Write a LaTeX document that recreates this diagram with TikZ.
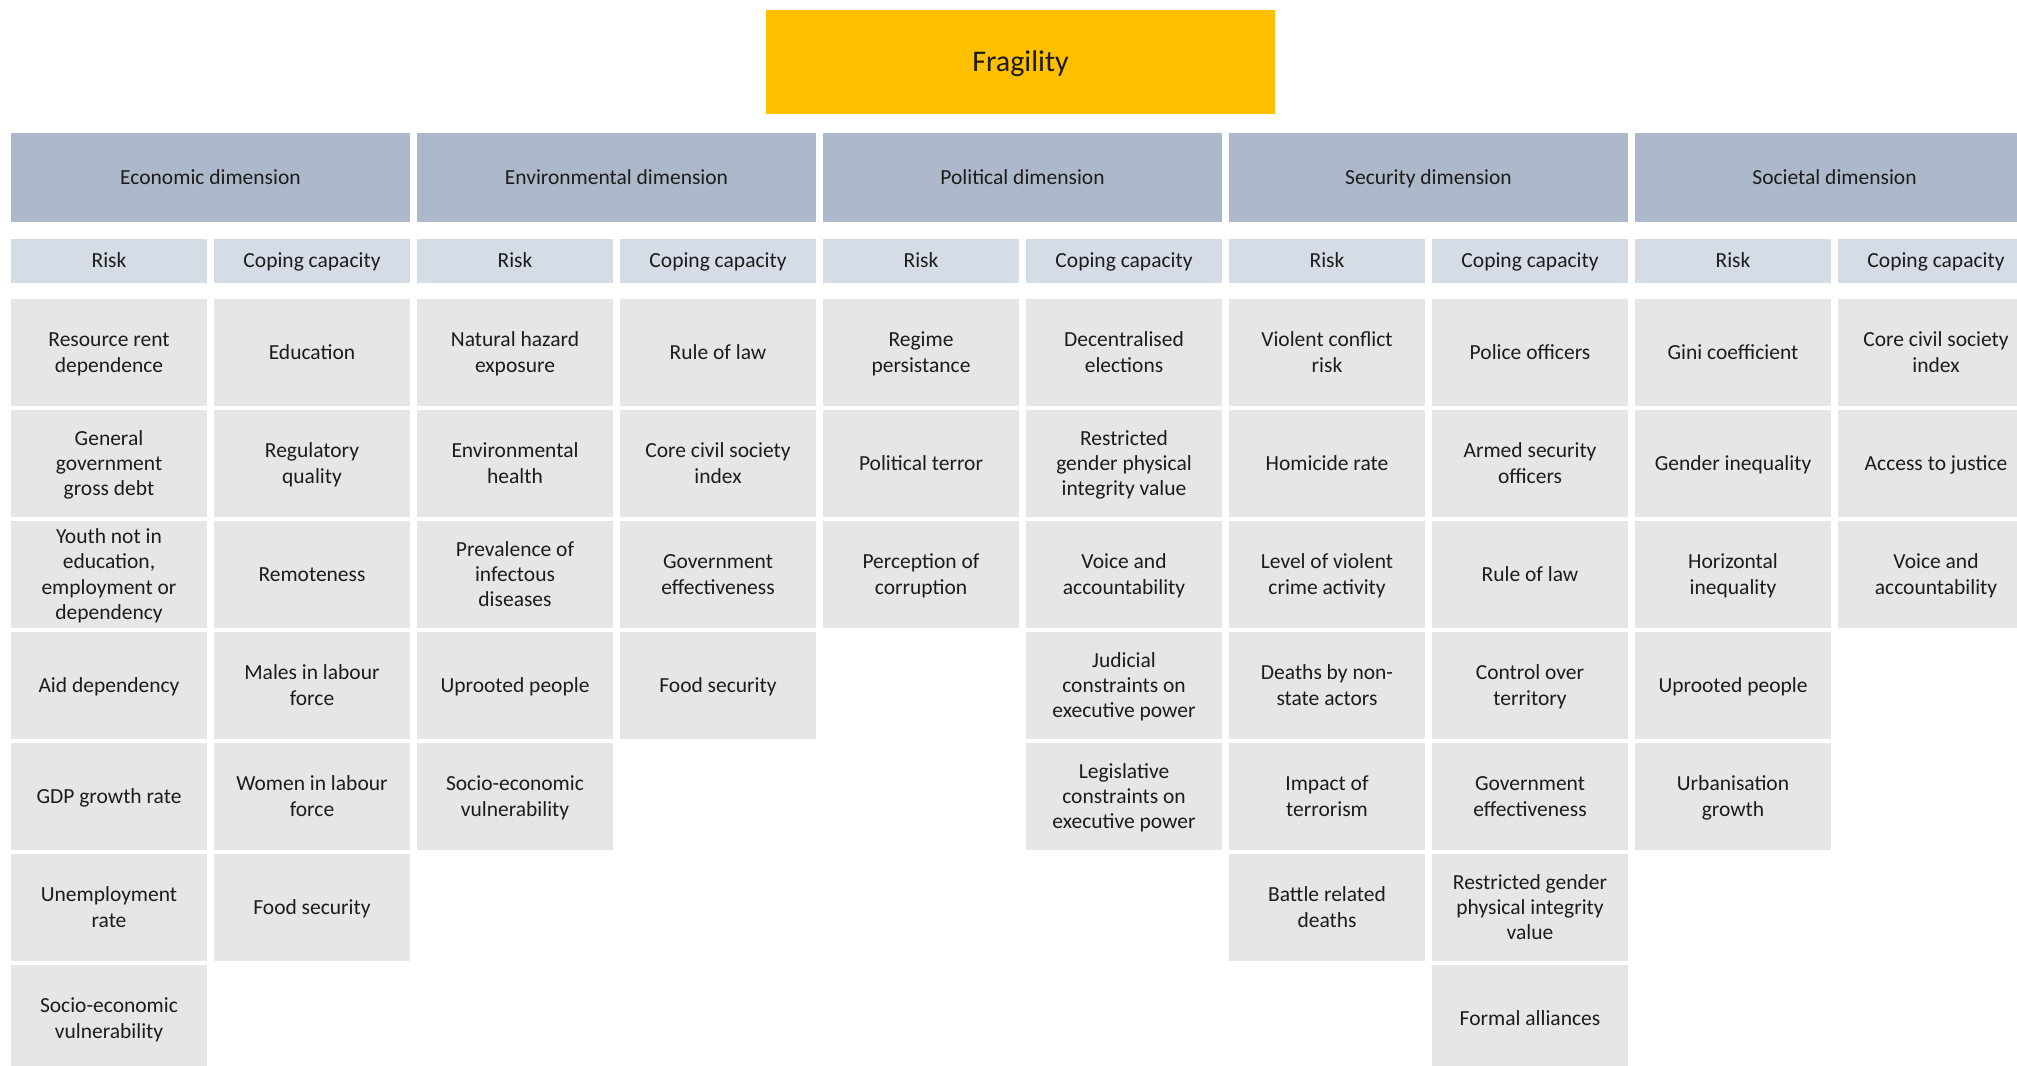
\documentclass[tikz,border=0pt]{standalone}
\usepackage{fontspec}
\setmainfont{Carlito}
\definecolor{fragyellow}{HTML}{FFC000}
\definecolor{dimblue}{HTML}{ADB9CA}
\definecolor{subblue}{HTML}{D6DCE5}
\definecolor{cellgray}{HTML}{E6E6E6}
\definecolor{txt}{HTML}{1C1C1C}

% struts so that every box is centred on the cap height, whatever the letters
\newcommand\topstrut{\rule{0pt}{19.5pt}}
\newcommand\botstrut{\rule[-5.7pt]{0pt}{5.7pt}}
\newcommand\boxtext[1]{\topstrut#1\botstrut}

% cell of the indicator grid: column #1 (0..9), row #2 (1..7)
\newcommand\cellat[3]{\node[cellbox] (c#1-#2) at ({11+203*#1},{299+111*(#2-1)}) {\boxtext{#3}};}
% sub-header (Risk / Coping capacity) above column #1
\newcommand\subat[2]{\node[subbox] (s#1) at ({11+203*#1},239) {\boxtext{#2}};}
% dimension header spanning two columns, dimension #1 (0..4)
\newcommand\dimat[2]{\node[dimbox] (d#1) at ({11+406*#1},133) {\boxtext{#2}};}

\begin{document}
\begin{tikzpicture}[x=1pt,y=-1pt,
  base/.style={inner sep=0pt, outer sep=0pt, align=center, anchor=north west,
    text=txt, font=\fontsize{21.5}{25.4}\selectfont},
  cellbox/.style={base, fill=cellgray, minimum width=196pt, minimum height=107pt},
  subbox/.style={base, fill=subblue, minimum width=196pt, minimum height=44pt},
  dimbox/.style={base, fill=dimblue, minimum width=399pt, minimum height=89pt},
  fragbox/.style={base, fill=fragyellow, minimum width=509pt, minimum height=104pt,
    font=\fontsize{30}{36}\selectfont}]
\useasboundingbox (0,0) rectangle (2017,1065);
\clip (0,0) rectangle (2017,1065);

% top box
\node[fragbox] (frag) at (766,10) {\rule{0pt}{27pt}Fragility\rule[-7.7pt]{0pt}{7.7pt}};

% dimensions
\dimat{0}{Economic dimension}
\dimat{1}{Environmental dimension}
\dimat{2}{Political dimension}
\dimat{3}{Security dimension}
\dimat{4}{Societal dimension}

% risk / coping capacity headers
\foreach \k in {0,2,4,6,8} {\subat{\k}{Risk}}
\foreach \k in {1,3,5,7,9} {\subat{\k}{Coping capacity}}

% economic
\cellat{0}{1}{Resource rent\\dependence}
\cellat{0}{2}{General\\government\\gross debt}
\cellat{0}{3}{Youth not in\\education,\\employment or\\dependency}
\cellat{0}{4}{Aid dependency}
\cellat{0}{5}{GDP growth rate}
\cellat{0}{6}{Unemployment\\rate}
\cellat{0}{7}{Socio-economic\\vulnerability}
\cellat{1}{1}{Education}
\cellat{1}{2}{Regulatory\\quality}
\cellat{1}{3}{Remoteness}
\cellat{1}{4}{Males in labour\\force}
\cellat{1}{5}{Women in labour\\force}
\cellat{1}{6}{Food security}

% environmental
\cellat{2}{1}{Natural hazard\\exposure}
\cellat{2}{2}{Environmental\\health}
\cellat{2}{3}{Prevalence of\\infectous\\diseases}
\cellat{2}{4}{Uprooted people}
\cellat{2}{5}{Socio-economic\\vulnerability}
\cellat{3}{1}{Rule of law}
\cellat{3}{2}{Core civil society\\index}
\cellat{3}{3}{Government\\effectiveness}
\cellat{3}{4}{Food security}

% political
\cellat{4}{1}{Regime\\persistance}
\cellat{4}{2}{Political terror}
\cellat{4}{3}{Perception of\\corruption}
\cellat{5}{1}{Decentralised\\elections}
\cellat{5}{2}{Restricted\\gender physical\\integrity value}
\cellat{5}{3}{Voice and\\accountability}
\cellat{5}{4}{Judicial\\constraints on\\executive power}
\cellat{5}{5}{Legislative\\constraints on\\executive power}

% security
\cellat{6}{1}{Violent conflict\\risk}
\cellat{6}{2}{Homicide rate}
\cellat{6}{3}{Level of violent\\crime activity}
\cellat{6}{4}{Deaths by non-\\state actors}
\cellat{6}{5}{Impact of\\terrorism}
\cellat{6}{6}{Battle related\\deaths}
\cellat{7}{1}{Police officers}
\cellat{7}{2}{Armed security\\officers}
\cellat{7}{3}{Rule of law}
\cellat{7}{4}{Control over\\territory}
\cellat{7}{5}{Government\\effectiveness}
\cellat{7}{6}{Restricted gender\\physical integrity\\value}
\cellat{7}{7}{Formal alliances}

% societal
\cellat{8}{1}{Gini coefficient}
\cellat{8}{2}{Gender inequality}
\cellat{8}{3}{Horizontal\\inequality}
\cellat{8}{4}{Uprooted people}
\cellat{8}{5}{Urbanisation\\growth}
\cellat{9}{1}{Core civil society\\index}
\cellat{9}{2}{Access to justice}
\cellat{9}{3}{Voice and\\accountability}
\end{tikzpicture}
\end{document}
